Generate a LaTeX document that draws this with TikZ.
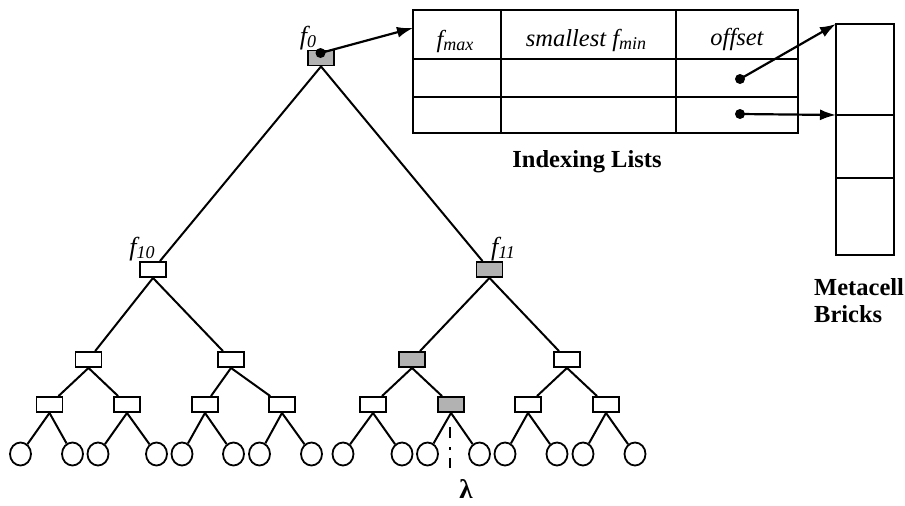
\documentclass[tikz,border=0pt]{standalone}
\usepackage{fontspec}
\setmainfont{Liberation Serif}
\usetikzlibrary{arrows.meta,shapes.geometric}
\definecolor{nodegray}{RGB}{178,178,178}
\newcommand{\mysub}[1]{\raisebox{-3.5pt}{\fontsize{18}{18}\selectfont #1}}
\begin{document}
\begin{tikzpicture}[x=1pt,y=-1pt,
  tn/.style={draw,line width=1.9pt,minimum width=26pt,minimum height=15pt,inner sep=0pt,fill=white},
  gn/.style={tn,fill=nodegray},
  leaf/.style={draw,ellipse,line width=1.8pt,minimum width=21pt,minimum height=23pt,inner sep=0pt},
  edge/.style={line width=2pt},
  tline/.style={line width=2.2pt},
  lbl/.style={font=\fontsize{26}{30}\selectfont\itshape,inner sep=0pt},
  hdr/.style={font=\fontsize{24.5}{29}\selectfont\itshape,inner sep=0pt},
  bold/.style={font=\fontsize{24.5}{27}\selectfont\bfseries,inner sep=0pt},
  arr/.style={line width=2.2pt,-{Latex[length=16pt,width=11pt]}},
  dotn/.style={circle,fill=black,inner sep=0pt,minimum size=10pt}]
\useasboundingbox (0,0) rectangle (905,506);

% tree nodes
\node[gn] (r) at (321,58) {};
\node[tn] (a) at (153,269.5) {};
\node[gn] (b) at (489.5,269.5) {};
\node[tn] (a1) at (88.5,359.5) {};
\node[tn] (a2) at (231,359.5) {};
\node[gn] (b1) at (412,359.5) {};
\node[tn] (b2) at (567,359.5) {};
\node[tn] (c1) at (49.5,404.5) {};
\node[tn] (c2) at (127,404.5) {};
\node[tn] (c3) at (205,404.5) {};
\node[tn] (c4) at (282,404.5) {};
\node[tn] (c5) at (373,404.5) {};
\node[gn] (c6) at (451,404.5) {};
\node[tn] (c7) at (528,404.5) {};
\node[tn] (c8) at (606,404.5) {};
\foreach \n/\x in {1/20.5,2/72.5,3/98,4/156.5,5/182,6/233.5,7/259.5,8/311.5,9/343,10/402,11/427.5,12/479.5,13/505,14/557,15/583,16/635}
  \node[leaf] (l\n) at (\x,454) {};

% labels
\node[lbl] (f0) at (308,38) {f\mysub{0}};
\node[lbl] (f10) at (142,249) {f\mysub{10}};
\node[lbl] (f11) at (503,249) {f\mysub{11}};

% edges
\draw[edge] (r.south) -- (a);
\draw[edge] (r.south) -- (b);
\draw[edge] (a.south) -- (a1);
\draw[edge] (a.south) -- (a2);
\draw[edge] (b.south) -- (b1);
\draw[edge] (b.south) -- (b2);
\draw[edge] (a1.south) -- (c1);
\draw[edge] (a1.south) -- (c2);
\draw[edge] (a2.south) -- (c3);
\draw[edge] (a2.south) -- (c4);
\draw[edge] (b1.south) -- (c5);
\draw[edge] (b1.south) -- (c6);
\draw[edge] (b2.south) -- (c7);
\draw[edge] (b2.south) -- (c8);
\foreach \p/\u/\v in {c1/1/2,c2/3/4,c3/5/6,c4/7/8,c5/9/10,c6/11/12,c7/13/14,c8/15/16}{
  \draw[edge] (\p.south) -- (l\u);
  \draw[edge] (\p.south) -- (l\v);
}

% lambda
\node[font=\fontsize{27}{30}\selectfont\bfseries,inner sep=0pt] (lam) at (466,489) {λ};
\coordinate (ds) at (450,427);
\coordinate (de) at (450,468);
\draw[line width=2pt,dash pattern=on 11pt off 9pt on 3pt off 8pt] (ds) -- (de);

% indexing table
\draw[tline] (413,10) rectangle (798,133);
\draw[tline] (413,59) -- (798,59);
\draw[tline] (413,97) -- (798,97);
\draw[tline] (501,10) -- (501,133);
\draw[tline] (676,10) -- (676,133);
\node[hdr] (h1) at (455,41) {f\mysub{max}};
\node[hdr] (h2) at (586,40) {smallest f\mysub{min}};
\node[hdr] (h3) at (737,39) {offset};
\node[bold] (il) at (587,162) {Indexing Lists};
\coordinate (tin) at (413,28);

% metacell bricks
\draw[tline] (836,24) rectangle (894,255);
\draw[tline] (836,115) -- (894,115);
\draw[tline] (836,178) -- (894,178);
\coordinate (m1) at (836,24);
\coordinate (m2) at (836,115);
\node[bold,anchor=west,align=left] (mb) at (814,301) {Metacell\\Bricks};

% pointers
\node[dotn] (d0) at (320.5,53) {};
\node[dotn] (d1) at (740,79) {};
\node[dotn] (d2) at (740,114) {};
\draw[arr] (d0.center) -- (tin);
\draw[arr] (d1.center) -- (m1);
\draw[arr] (d2.center) -- (m2);
\end{tikzpicture}
\end{document}
